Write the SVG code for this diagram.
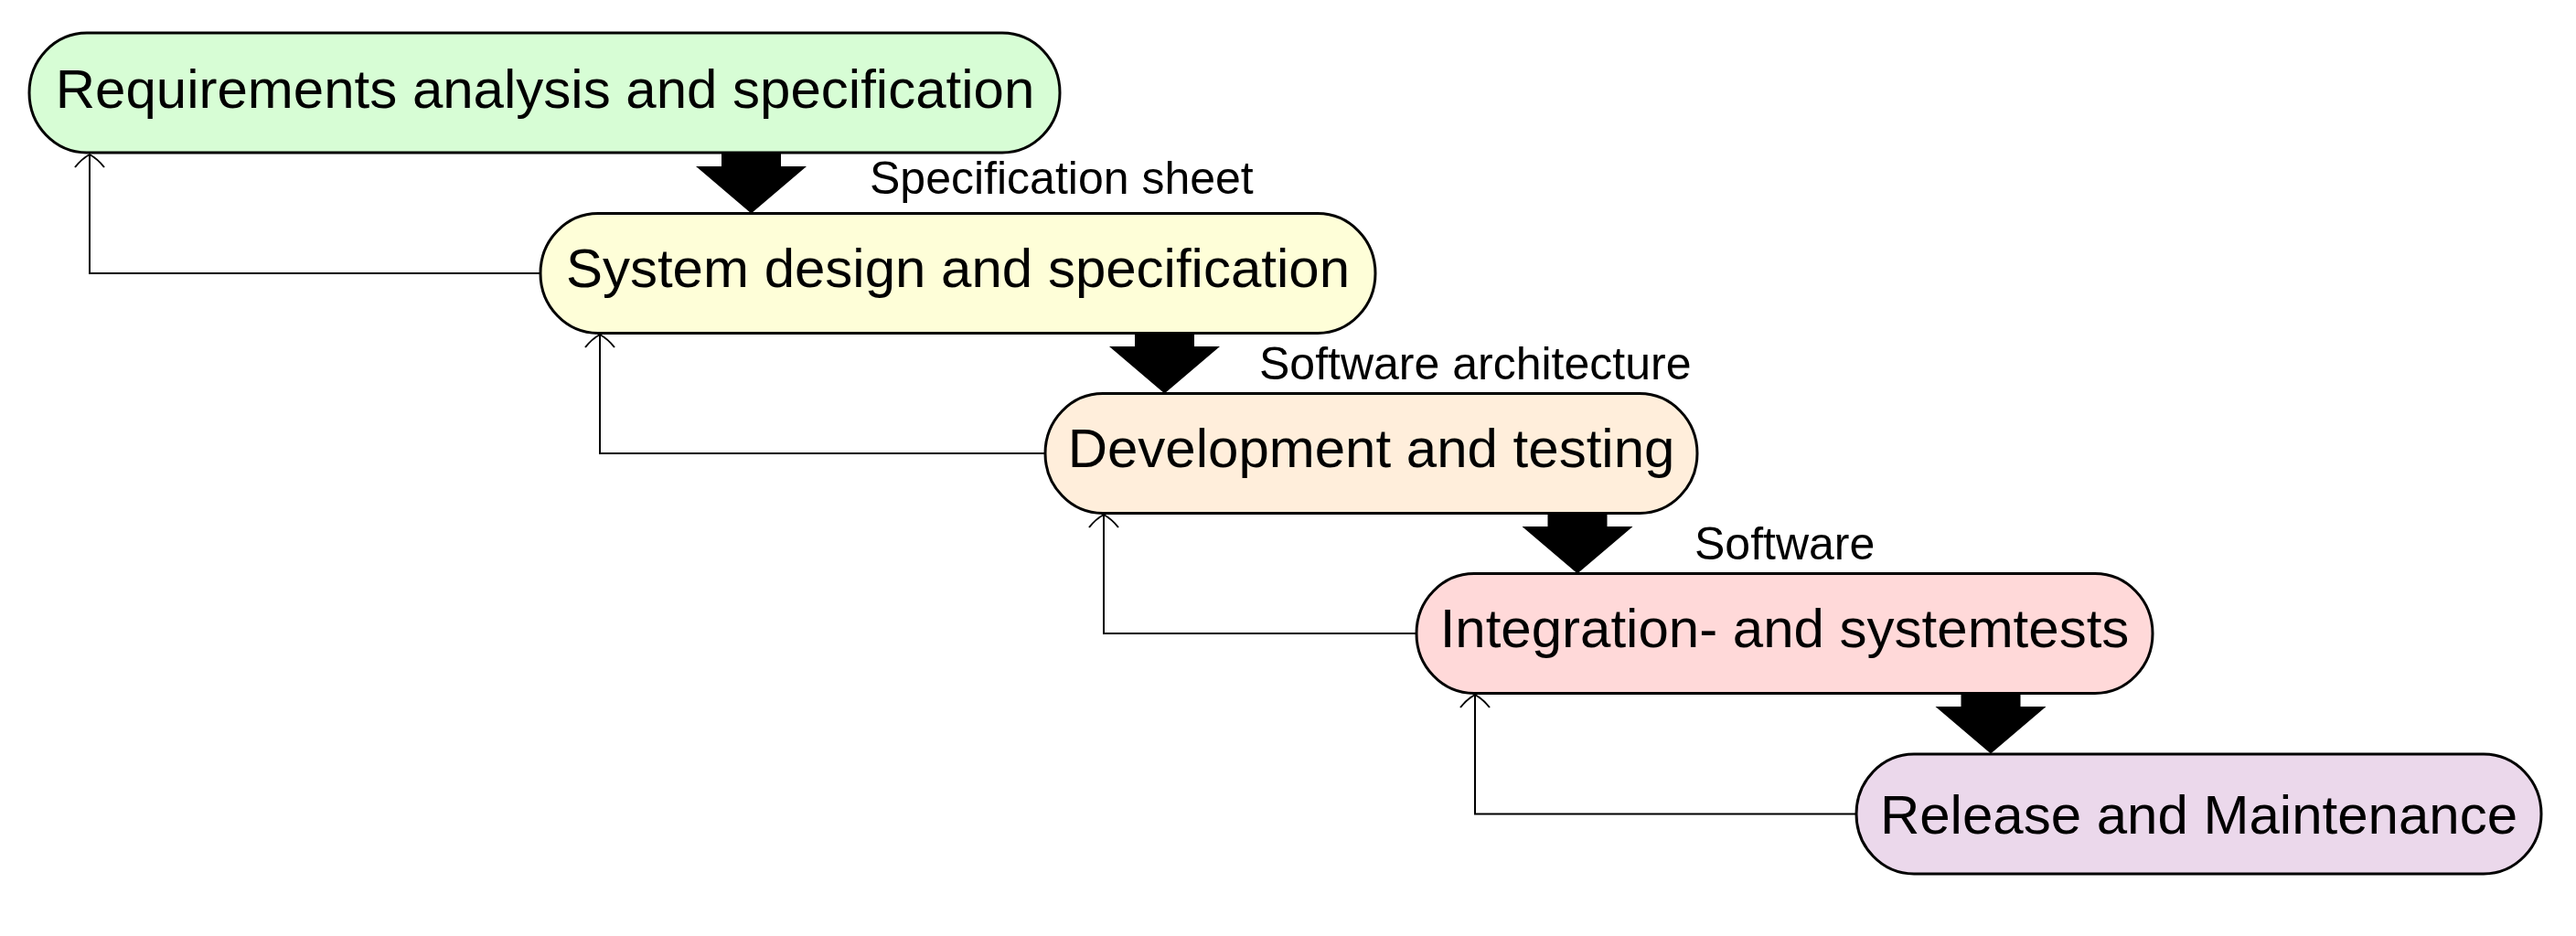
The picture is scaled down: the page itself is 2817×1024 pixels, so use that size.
<svg xmlns="http://www.w3.org/2000/svg" width="2817" height="1024" viewBox="0 0 2817 1024">
<style>
.node path{stroke:#000;stroke-width:3}
.ntext{font-family:"Liberation Sans",Arial,Helvetica,sans-serif;font-size:60px;fill:#000;text-anchor:middle}
.lbl{font-family:"Liberation Sans",Arial,Helvetica,sans-serif;font-size:50px;fill:#000}
.fb{fill:none;stroke:#000;stroke-width:2;marker-end:url(#open)}
.big{fill:#000}
</style>
<defs>
<marker id="open" markerUnits="userSpaceOnUse" orient="auto" markerWidth="40" markerHeight="40" viewBox="-20 -20 40 40" refX="0" refY="0" overflow="visible">
<path d="M -14 -16 Q -5 -9 0 0 Q -5 9 -14 16" fill="none" stroke="#000" stroke-width="2"/>
</marker>
<path id="bigArrow" d="M -32.5 0 H 32.5 V 14.5 H 60.5 L 0 66 L -60.5 14.5 H -32.5 Z"/>
</defs>
<rect width="2817" height="1024" fill="#fff"/>
<g id="connectors">
<path class="fb" d="M 591 299 H 98 V 169"/>
<path class="fb" d="M 1143 496 H 656 V 366"/>
<path class="fb" d="M 1549 693 H 1207 V 563"/>
<path class="fb" d="M 2030 890.5 H 1613 V 760"/>
<use class="big" href="#bigArrow" x="821.5" y="167.5"/>
<use class="big" href="#bigArrow" x="1273.5" y="364.5"/>
<use class="big" href="#bigArrow" x="1725" y="561.5"/>
<use class="big" href="#bigArrow" x="2177" y="758.5"/>
</g>
<g id="node1" class="node">
<path fill="#d7fdd5" d="M 95 36 H 1096 A 63 65.5 0 0 1 1096 167 H 95 A 63 65.5 0 0 1 95 36 Z"/>
<text class="ntext" x="596" y="118">Requirements analysis and specification</text>
</g>
<g id="node2" class="node">
<path fill="#fefed8" d="M 654 233.5 H 1441 A 63 65.5 0 0 1 1441 364.5 H 654 A 63 65.5 0 0 1 654 233.5 Z"/>
<text class="ntext" x="1047.5" y="313.5">System design and specification</text>
</g>
<g id="node3" class="node">
<path fill="#ffeedb" d="M 1206 430.5 H 1793 A 63 65.5 0 0 1 1793 561.5 H 1206 A 63 65.5 0 0 1 1206 430.5 Z"/>
<text class="ntext" x="1499.5" y="510.5">Development and testing</text>
</g>
<g id="node4" class="node">
<path fill="#ffd9d9" d="M 1612 627.5 H 2291 A 63 65.5 0 0 1 2291 758.5 H 1612 A 63 65.5 0 0 1 1612 627.5 Z"/>
<text class="ntext" x="1951.5" y="708">Integration- and systemtests</text>
</g>
<g id="node5" class="node">
<path fill="#ebd8eb" d="M 2093 825 H 2716 A 63 65.5 0 0 1 2716 956 H 2093 A 63 65.5 0 0 1 2093 825 Z"/>
<text class="ntext" x="2404.5" y="912">Release and Maintenance</text>
</g>
<g id="labels">
<text class="lbl" x="951" y="212">Specification sheet</text>
<text class="lbl" x="1377" y="415">Software architecture</text>
<text class="lbl" x="1853" y="612">Software</text>
</g>
</svg>
